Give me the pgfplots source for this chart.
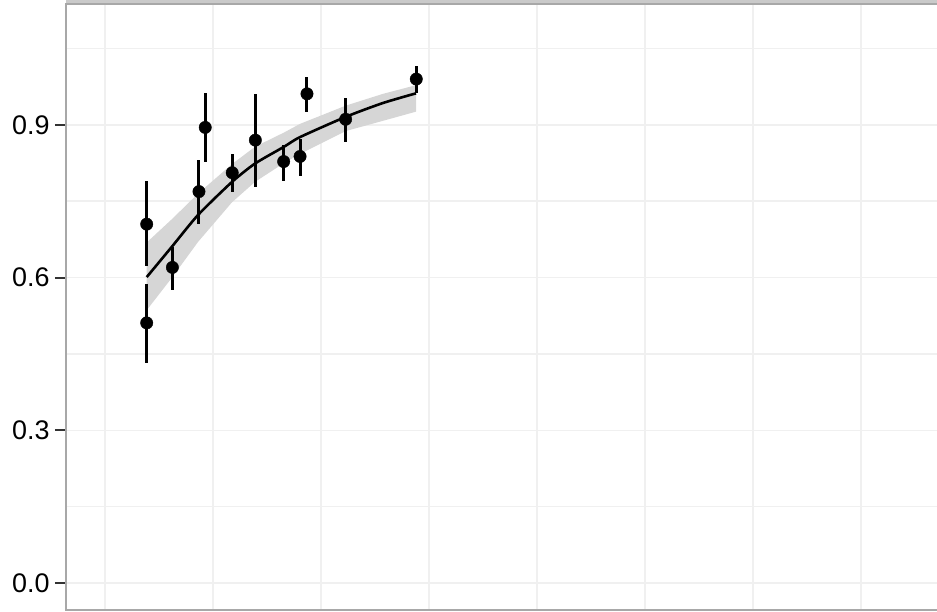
\documentclass[border=0pt]{standalone}
\usepackage{fontspec}
\setmainfont{Liberation Sans}
\usepackage{pgfplots}
\pgfplotsset{compat=1.18}
\usepackage{pgfplotstable}
\usepgfplotslibrary{fillbetween}

\definecolor{bordergray}{HTML}{A8A8A8}
\definecolor{stripgray}{HTML}{CACACA}
\definecolor{gridgray}{HTML}{F0F0F0}
\definecolor{tickgray}{HTML}{333333}
\definecolor{bandgray}{HTML}{D6D6D6}

% fitted curve with its confidence band
\pgfplotstableread{
x      lo     fit    hi
1.931  0.536  0.601  0.669
3.102  0.600  0.661  0.715
4.306  0.670  0.723  0.765
5.880  0.748  0.788  0.823
6.944  0.788  0.824  0.857
8.287  0.825  0.857  0.885
9.028  0.843  0.876  0.902
11.157 0.888  0.916  0.938
12.870 0.908  0.943  0.961
14.398 0.926  0.962  0.978
}\fitdata

% observed proportions with their intervals
\pgfplotstableread{
x      y      lo     hi
1.93   0.705  0.622  0.789
1.93   0.511  0.433  0.587
3.12   0.620  0.576  0.661
4.35   0.769  0.705  0.832
4.64   0.895  0.827  0.962
5.89   0.806  0.769  0.842
6.96   0.870  0.778  0.960
8.27   0.828  0.790  0.861
9.03   0.838  0.800  0.872
9.35   0.961  0.926  0.994
11.14  0.911  0.867  0.953
14.41  0.990  0.962  1.016
}\obsdata

\begin{document}
\begin{tikzpicture}
\begin{axis}[
  at={(66bp,2bp)}, anchor=south west,
  scale only axis, width=894bp, height=606bp,
  xmin=-1.806, xmax=39.583, ymin=-0.053, ymax=1.1375,
  xtick={0,10,20,30}, minor xtick={5,15,25,35},
  ytick={0,0.3,0.6,0.9}, minor ytick={0.15,0.45,0.75,1.05},
  xticklabels={}, xtick style={draw=none},
  ytick pos=left, tick align=outside,
  major tick length=11bp, minor tick length=0pt,
  ytick style={draw=tickgray, line width=1.8bp},
  grid=both,
  grid style={draw=gridgray, line width=1.6bp},
  minor grid style={draw=gridgray, line width=1.6bp},
  axis line style={draw=bordergray, line width=2bp},
  yticklabel style={font=\fontsize{27}{30}\selectfont, text=black, xshift=-2bp},
  /pgf/number format/.cd, fixed, fixed zerofill, precision=1, assume math mode=true,
]
\addplot[draw=none, name path=lower] table[x=x, y=lo] {\fitdata};
\addplot[draw=none, name path=upper] table[x=x, y=hi] {\fitdata};
\addplot[fill=bandgray, draw=none] fill between[of=lower and upper];
\addplot[black, line width=2.6bp, smooth, tension=0.4] table[x=x, y=fit] {\fitdata};
\addplot[only marks, mark=*, mark size=6.2bp, mark options={fill=black, draw=none},
  error bars/.cd, y dir=both, y explicit, error mark=none,
  error bar style={line width=3bp, black}]
  table[x=x, y=y,
        y error plus expr=\thisrow{hi}-\thisrow{y},
        y error minus expr=\thisrow{y}-\thisrow{lo}] {\obsdata};
\end{axis}
% facet strip above the panel
\fill[stripgray] (66bp,609bp) rectangle (960bp,620bp);
% y-axis title
\node[rotate=90, anchor=base east, inner sep=0pt, font=\fontsize{28}{30}\selectfont] at (-0.5bp,90bp) {Survival};
\pgfresetboundingbox
\path[use as bounding box] (0bp,0bp) rectangle (937bp,612bp);
\end{tikzpicture}
\end{document}
